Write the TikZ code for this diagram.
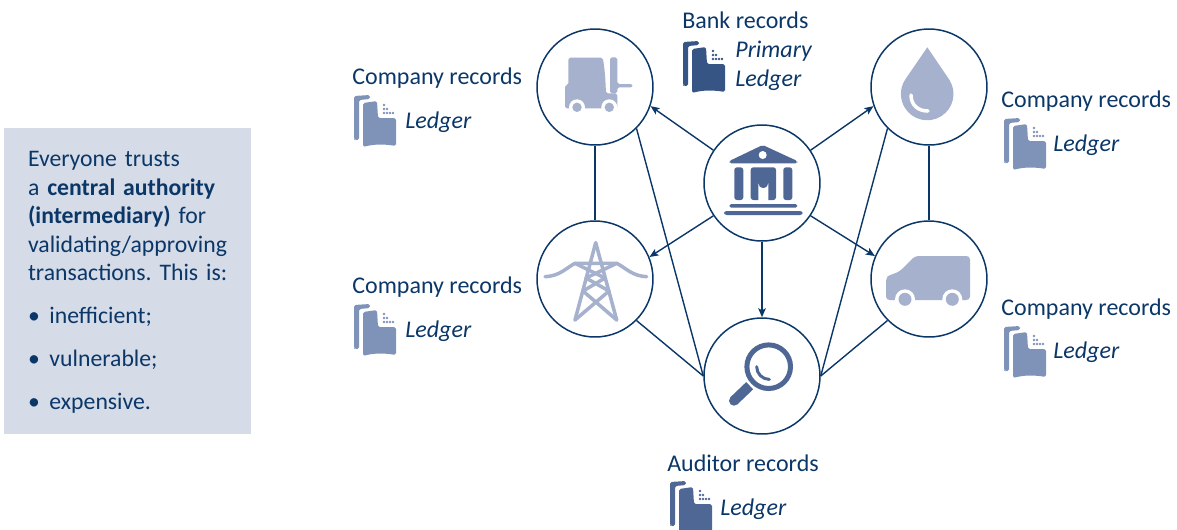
\documentclass[tikz,border=0pt]{standalone}
\usepackage{fontspec}
\setmainfont{Carlito}
\newfontfamily\panelfont{Carlito}[WordSpace=0.75]
\usetikzlibrary{arrows.meta}
\definecolor{navy}{HTML}{0B3768}
\definecolor{panelblue}{HTML}{D5DBE7}
\definecolor{iconlight}{HTML}{A6B1CD}
\definecolor{iconmid}{HTML}{4F6795}
\definecolor{ledgerlight}{HTML}{7F92B8}
\definecolor{ledgerdark}{HTML}{365484}
% ledger icon: #1,#2 top left corner, #3 colour
\newcommand{\ledgericon}[3]{
\begin{scope}[shift={(#1,#2)},fill=#3]
\fill[rounded corners=1pt] (0,1) -- (16,0) -- (16,4) -- (5,5) -- (5,45) -- (1,45) -- (0,44) -- cycle;
\fill[rounded corners=1pt] (9,8) -- (23,6) -- (24,23) -- (42,23) -- (42,51) .. controls (30,49) and (20,49) .. (9,52) -- cycle;
\foreach \dx/\dy in {30/10,30/14,33/14,30/18,33/18,36/18,39/18}
  \fill (\dx,\dy) circle (1.3);
\end{scope}}
\begin{document}
\begin{tikzpicture}[x=0.02cm,y=-0.02cm,
  main node/.style={circle,draw=navy,line width=0.85pt,minimum size=2.32cm,inner sep=0pt},
  rec label/.style={anchor=base west,inner sep=0pt,text=navy,font=\fontsize{13.65}{15}\selectfont},
  led label/.style={anchor=base west,inner sep=0pt,text=navy,font=\fontsize{13.65}{15}\selectfont\itshape},
  panel/.style={fill=panelblue,minimum width=4.94cm,minimum height=6.12cm,text width=3.98cm,align=left,text=navy,inner sep=0pt,font=\panelfont\fontsize{13.5}{16.2}\selectfont\frenchspacing},
  link/.style={draw=navy,line width=0.8pt},
  arrow/.style={link,-{Stealth[length=0.18cm,width=0.15cm,inset=0.04cm]}}]
\useasboundingbox (0,0) rectangle (1177,529);
\node[fill=panelblue,minimum width=4.94cm,minimum height=6.12cm,inner sep=0pt] (info) at (127.5,281) {};
\node[panel,fill=none] (infotext) at (127.5,282.5) {Everyone trusts\\a \textbf{central authority}\\\textbf{(intermediary)} for\\\mbox{validating/approving}\\\mbox{transactions. This is:}\\[8.3pt]\textbullet\hspace{5.5pt}inefficient;\\[8.3pt]\textbullet\hspace{5.5pt}vulnerable;\\[8.3pt]\textbullet\hspace{5.5pt}expensive.};
\begin{scope}
\node[main node] (fork) at (595,87) {};
\node[main node] (drop) at (929,87) {};
\node[main node] (bank) at (762,183) {};
\node[main node] (tower) at (595,279) {};
\node[main node] (van) at (929,279) {};
\node[main node] (audit) at (762,376) {};
\end{scope}
\begin{scope}[every path/.style={link}]
\draw (fork) -- (tower);
\draw (drop) -- (van);
\draw (fork.south east) -- (audit.west);
\draw (tower.south east) -- (audit.west);
\draw (drop.south west) -- (audit.east);
\draw (van.south west) -- (audit.east);
\end{scope}
\draw[arrow] (bank.146) -- (fork.-19);
\draw[arrow] (bank.34) -- (drop.199);
\draw[arrow] (bank.214) -- (tower.22);
\draw[arrow] (bank.-34) -- (van.157);
\draw[arrow] (bank.south) -- (audit.north);
% labels
\node[rec label] (forkrec) at (352,84) {Company records};
\node[rec label] (towerrec) at (352,293) {Company records};
\node[rec label] (droprec) at (1001,107) {Company records};
\node[rec label] (vanrec) at (1001,315) {Company records};
\node[rec label] (bankrec) at (682,28) {Bank records};
\node[rec label] (auditrec) at (667,471) {Auditor records};
\node[led label] (forkled) at (405,128) {Ledger};
\node[led label] (towerled) at (405,337) {Ledger};
\node[led label] (dropled) at (1053,151) {Ledger};
\node[led label] (vanled) at (1053,358) {Ledger};
\node[led label] (bankprim) at (735,57) {Primary};
\node[led label] (bankled) at (735,86) {Ledger};
\node[led label] (auditled) at (720,515) {Ledger};
\ledgericon{354}{95}{ledgerlight}
\ledgericon{354}{304}{ledgerlight}
\ledgericon{1004}{118}{ledgerlight}
\ledgericon{1004}{326}{ledgerlight}
\ledgericon{683}{41}{ledgerdark}
\ledgericon{670}{481}{iconmid}
% forklift
\fill[iconlight,rounded corners=1pt] (565,85) -- (568.3,85) -- (568.3,57.7) -- (602.7,57.7) .. controls (605,70) and (605.5,82) .. (606,93.3) -- (617.3,93.3) -- (617.3,108.3) -- (565,108.3) -- cycle;
\fill[iconlight,rounded corners=1pt] (610,57.3) -- (617.3,57.3) -- (617.3,84) -- (632.7,84) -- (632.7,87.3) -- (617.3,87.3) -- (617.3,93.3) -- (610,93.3) -- cycle;
\foreach \wx in {577,609.3} {
  \fill[white] (\wx,107.3) circle (8);
  \fill[iconlight] (\wx,107.3) circle (4.7);
}
% bank
\fill[iconmid,rounded corners=1pt] (762.7,145) -- (797.3,161) -- (797.3,163.3) -- (729.3,163.3) -- (729.3,161) -- cycle;
\fill[white] (762.7,155) circle (4);
\fill[iconmid,rounded corners=1.5pt] (734.3,167.3) rectangle (743.3,200);
\fill[iconmid,rounded corners=1.5pt] (783.3,167.3) rectangle (792.3,200);
\fill[iconmid,rounded corners=1.5pt] (750.7,167.3) rectangle (776,200);
\fill[white] (758.3,201) -- (758.3,183.3) arc[start angle=180,end angle=0,radius=5] -- (768.3,201) -- cycle;
\fill[iconmid,rounded corners=1pt] (729.3,204) rectangle (797.3,207.7);
\fill[iconmid,rounded corners=1.5pt] (724,211) rectangle (802.7,215);
% pylon
\begin{scope}[every path/.style={draw=iconlight,line width=2pt,line cap=round,line join=round}]
\draw (595.7,242.7) -- (575,320);
\draw (595.7,242.7) -- (616.7,320);
\draw (545,276.7) .. controls (560,276) and (566,268) .. (575,263.3) -- (616.7,263.3) .. controls (626,268) and (632,276) .. (646.7,276.7);
\draw (575,263.3) -- (605,278) -- (583,291) -- (616.7,320);
\draw (616.7,263.3) -- (586,278) -- (609,291) -- (575,320);
\end{scope}
% drop
\fill[iconlight] (927.3,47.3) -- (949.5,80) arc[start angle=-32,end angle=212,radius=26.3] -- cycle;
\draw[white,line width=2pt,line cap=round] (911,95) .. controls (911,105) and (918,111) .. (928,111);
% van
\fill[iconlight,rounded corners=2pt] (915,256) -- (970,256) -- (970,300) -- (886,300) -- (886,277.3) -- (890,275) -- (899.3,271.7) -- cycle;
\foreach \wx in {905,952.3} {
  \fill[white] (\wx,299.3) circle (10);
  \fill[iconlight] (\wx,299.3) circle (6.5);
}
% magnifier
\draw[iconmid,line width=2.85pt] (768.7,366.7) circle (21.8);
\draw[iconmid,line width=1.7pt,line cap=round] (756.7,366.7) arc[start angle=180,end angle=90,radius=12.7];
\draw[iconmid,line width=5.7pt] (734,400.7) -- (749.7,385.7);
\fill[iconmid] (734,400.7) circle (5);
\end{tikzpicture}
\end{document}
